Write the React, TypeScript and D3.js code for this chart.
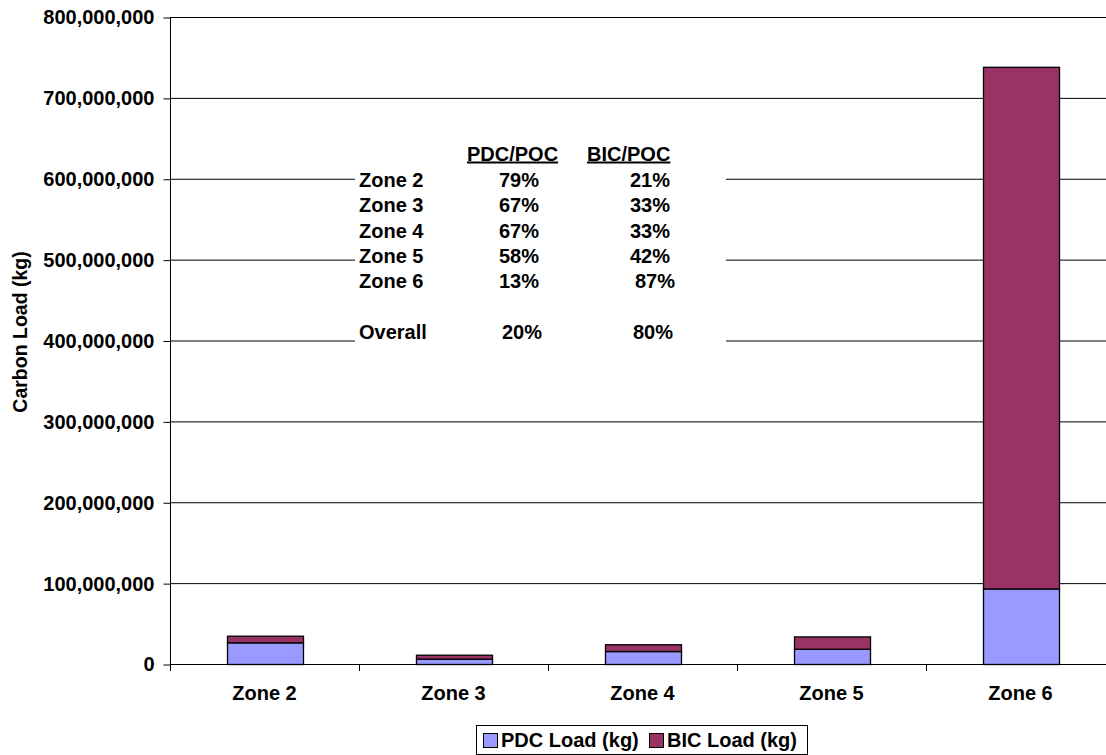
import React, { useEffect, useRef } from "react";
import * as d3 from "d3";

// categories and series (kg)
const zones = ["Zone 2", "Zone 3", "Zone 4", "Zone 5", "Zone 6"];
const pdcLoad = [26800000, 6600000, 16000000, 18900000, 93400000];
const bicLoad = [8200000, 4900000, 8400000, 15200000, 645000000];

// y axis ticks
const yTicks = [0, 100000000, 200000000, 300000000, 400000000, 500000000, 600000000, 700000000, 800000000];

// the ratio table in the text box
const tableZones = ["Zone 2", "Zone 3", "Zone 4", "Zone 5", "Zone 6"];
const pdcPct = ["79%", "67%", "67%", "58%", "13%"];
const bicPct = ["21%", "33%", "33%", "42%", "87%"];
const overallPdc = "20%";
const overallBic = "80%";

const series = ["PDC Load (kg)", "BIC Load (kg)"];
const colors = ["#9999FF", "#993366"];

const FONT = "'Liberation Sans', Arial, Helvetica, sans-serif";

const App = () => {
  const chartRef = useRef<HTMLDivElement>(null);

  useEffect(() => {
    const width = 1106;
    const height = 755;
    const left = 170;
    const right = 1115; // plot runs past the window edge
    const top = 17;
    const bottom = 664;

    d3.select(chartRef.current).selectAll("*").remove();

    const svg = d3
      .select(chartRef.current)
      .append("svg")
      .attr("width", width)
      .attr("height", height)
      .style("position", "absolute")
      .style("left", 0)
      .style("top", 0)
      .style("font-family", FONT)
      .style("font-weight", "bold");

    const x = d3.scaleBand<string>().domain(zones).range([left, right]).paddingInner(0.6).paddingOuter(0.3);
    const y = d3.scaleLinear().domain([0, 800000000]).range([bottom, top]);

    // gridlines
    svg
      .append("g")
      .selectAll("line")
      .data(yTicks.filter((t) => t > 0))
      .join("line")
      .attr("x1", left)
      .attr("x2", width)
      .attr("y1", (d) => y(d) + 0.5)
      .attr("y2", (d) => y(d) + 0.5)
      .attr("stroke", "#000")
      .attr("stroke-width", 1);

    // y axis
    const yAxis = svg
      .append("g")
      .attr("transform", `translate(${left + 0.5},0.5)`)
      .call(
        d3
          .axisLeft(y)
          .tickValues(yTicks)
          .tickFormat((d) => d3.format(",")(d as number))
          .tickSize(7)
          .tickPadding(9)
      );
    yAxis.select(".domain").remove();
    yAxis.selectAll("line").attr("stroke", "#000");
    yAxis
      .selectAll("text")
      .attr("font-family", FONT)
      .attr("font-weight", "bold")
      .attr("font-size", 20)
      .attr("fill", "#000");
    svg
      .append("line")
      .attr("x1", left + 0.5)
      .attr("x2", left + 0.5)
      .attr("y1", top)
      .attr("y2", bottom + 7)
      .attr("stroke", "#000");

    // y axis title
    svg
      .append("text")
      .attr("transform", `translate(27,332) rotate(-90)`)
      .attr("text-anchor", "middle")
      .attr("font-size", 19.5)
      .text("Carbon Load (kg)");

    // text box with the ratio table (white fill hides the gridlines)
    const box = svg.append("g");
    box.append("rect").attr("x", 355).attr("y", 138).attr("width", 371).attr("height", 212).attr("fill", "#fff");
    const rowY = (i: number) => 186.7 + i * 25.4;
    box
      .selectAll("text.head")
      .data(["PDC/POC", "BIC/POC"])
      .join("text")
      .attr("class", "head")
      .attr("x", (d, i) => (i === 0 ? 467 : 587))
      .attr("y", 160.5)
      .attr("font-size", 20)
      .attr("text-decoration", "underline")
      .text((d) => d);
    const rows = tableZones.map((z, i) => ({ z, p: pdcPct[i], b: bicPct[i], r: i }));
    rows.push({ z: "Overall", p: overallPdc, b: overallBic, r: 6 });
    const rowG = box.selectAll("g.row").data(rows).join("g").attr("class", "row");
    rowG
      .append("text")
      .attr("x", 359)
      .attr("y", (d) => rowY(d.r))
      .attr("font-size", 20)
      .text((d) => d.z);
    rowG
      .append("text")
      .attr("x", (d) => (d.r === 6 ? 542 : 539))
      .attr("y", (d) => rowY(d.r))
      .attr("text-anchor", "end")
      .attr("font-size", 20)
      .text((d) => d.p);
    rowG
      .append("text")
      .attr("x", (d) => (d.r === 6 ? 673 : d.r === 4 ? 675 : 670))
      .attr("y", (d) => rowY(d.r))
      .attr("text-anchor", "end")
      .attr("font-size", 20)
      .text((d) => d.b);

    // stacked bars
    const table = zones.map((z, i) => ({ zone: z, pdc: pdcLoad[i], bic: bicLoad[i] }));
    const stack = d3.stack<any>().keys(["pdc", "bic"])(table);
    svg
      .append("g")
      .selectAll("g")
      .data(stack)
      .join("g")
      .attr("fill", (d, i) => colors[i])
      .selectAll("rect")
      .data((d) => d)
      .join("rect")
      .attr("x", (d) => Math.round(x(d.data.zone)!) + 0.5)
      .attr("y", (d) => y(d[1]) + 0.5)
      .attr("width", Math.round(x.bandwidth()))
      .attr("height", (d) => y(d[0]) - y(d[1]))
      .attr("stroke", "#000")
      .attr("stroke-width", 1.3);

    // x axis line and ticks between categories
    svg
      .append("line")
      .attr("x1", left)
      .attr("x2", width)
      .attr("y1", bottom + 0.5)
      .attr("y2", bottom + 0.5)
      .attr("stroke", "#000");
    const gap = (x.step() - x.bandwidth()) / 2;
    svg
      .append("g")
      .selectAll("line")
      .data(zones)
      .join("line")
      .attr("x1", (d) => Math.round(x(d)! - gap) + 0.5)
      .attr("x2", (d) => Math.round(x(d)! - gap) + 0.5)
      .attr("y1", bottom)
      .attr("y2", bottom + 7)
      .attr("stroke", "#000");
    svg
      .append("g")
      .selectAll("text")
      .data(zones)
      .join("text")
      .attr("x", (d) => x(d)! + x.bandwidth() / 2)
      .attr("y", 700)
      .attr("text-anchor", "middle")
      .attr("font-size", 20)
      .text((d) => d);

    // legend
    const legend = svg.append("g").attr("transform", "translate(476,725)");
    legend
      .append("rect")
      .attr("x", 0.5)
      .attr("y", 0.5)
      .attr("width", 331)
      .attr("height", 29)
      .attr("fill", "#fff")
      .attr("stroke", "#000");
    const item = legend
      .selectAll("g")
      .data(series)
      .join("g")
      .attr("transform", (d, i) => `translate(${i === 0 ? 7 : 173},0)`);
    item
      .append("rect")
      .attr("x", 0.5)
      .attr("y", 8.5)
      .attr("width", 14)
      .attr("height", 14)
      .attr("fill", (d, i) => colors[i])
      .attr("stroke", "#000");
    item
      .append("text")
      .attr("x", 18)
      .attr("y", 22)
      .attr("font-size", 20)
      .text((d) => d);
  }, []);

  return <div ref={chartRef}></div>;
};

export default App;
